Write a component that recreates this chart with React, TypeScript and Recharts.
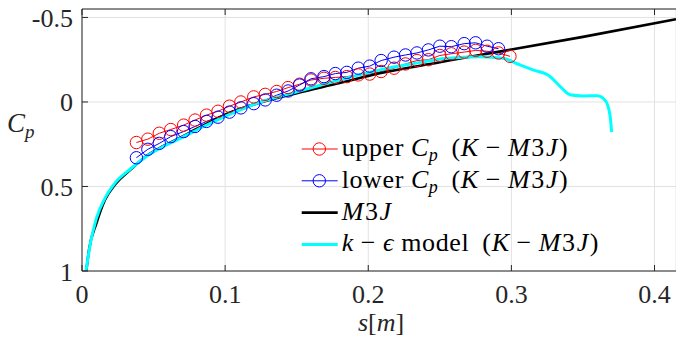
import React from 'react';
import { LineChart, Line, XAxis, YAxis, CartesianGrid, Legend } from 'recharts';

// ---- data ----
const sUpper = [0.038, 0.046, 0.054, 0.062, 0.071, 0.079, 0.087, 0.095, 0.103, 0.111, 0.12, 0.128, 0.136, 0.144, 0.152, 0.16, 0.169, 0.177, 0.185, 0.193, 0.201, 0.209, 0.218, 0.226, 0.234, 0.242, 0.25, 0.258, 0.267, 0.275, 0.283, 0.291, 0.299];
const cpUpper = [0.24, 0.22, 0.185, 0.163, 0.137, 0.107, 0.078, 0.055, 0.025, 0.0, -0.03, -0.045, -0.062, -0.085, -0.105, -0.13, -0.14, -0.145, -0.15, -0.16, -0.165, -0.18, -0.2, -0.225, -0.245, -0.25, -0.275, -0.285, -0.295, -0.305, -0.3, -0.29, -0.27];

const sLower = [0.038, 0.046, 0.054, 0.062, 0.071, 0.079, 0.087, 0.095, 0.103, 0.111, 0.12, 0.128, 0.136, 0.144, 0.152, 0.16, 0.169, 0.177, 0.185, 0.193, 0.201, 0.209, 0.218, 0.226, 0.234, 0.242, 0.25, 0.258, 0.267, 0.275, 0.283, 0.291];
const cpLower = [0.33, 0.28, 0.245, 0.205, 0.175, 0.145, 0.115, 0.09, 0.06, 0.035, 0.01, -0.012, -0.04, -0.065, -0.1, -0.137, -0.15, -0.168, -0.175, -0.2, -0.212, -0.245, -0.265, -0.278, -0.29, -0.308, -0.33, -0.327, -0.345, -0.35, -0.33, -0.315];

const sM3J = [0.003, 0.005, 0.01, 0.016, 0.023, 0.034, 0.045, 0.057, 0.069, 0.08, 0.1, 0.12, 0.15, 0.18, 0.208, 0.25, 0.278, 0.3, 0.35, 0.415];
const cpM3J = [1.0, 0.87, 0.72, 0.58, 0.49, 0.4, 0.32, 0.26, 0.21, 0.16, 0.075, 0.015, -0.052, -0.112, -0.17, -0.235, -0.278, -0.31, -0.385, -0.49];

const sKe = [0.0028, 0.006, 0.01, 0.016, 0.023, 0.034, 0.045, 0.057, 0.07, 0.085, 0.1, 0.12, 0.15, 0.18, 0.208, 0.23, 0.255, 0.278, 0.294, 0.306, 0.315, 0.327, 0.334, 0.341, 0.35, 0.36, 0.366, 0.369, 0.37];
const cpKe = [1.0, 0.83, 0.69, 0.57, 0.48, 0.395, 0.322, 0.263, 0.21, 0.145, 0.085, 0.015, -0.06, -0.13, -0.19, -0.225, -0.259, -0.268, -0.259, -0.219, -0.19, -0.151, -0.092, -0.043, -0.036, -0.037, -0.004, 0.085, 0.178];

const xTicks = [0, 0.1, 0.2, 0.3, 0.4];
const yTicks = [-0.5, 0, 0.5, 1];
const xTickLabels = ['0', '0.1', '0.2', '0.3', '0.4'];
const yTickLabels = ['-0.5', '0', '0.5', '1'];

const toRows = (s: number[], cp: number[]) => s.map((v, i) => ({ s: v, cp: cp[i] }));
const upperData = toRows(sUpper, cpUpper);
const lowerData = toRows(sLower, cpLower);
const m3jData = toRows(sM3J, cpM3J);
const keData = toRows(sKe, cpKe);

const FONT = '"Liberation Serif", "DejaVu Serif", "Noto Serif", serif';
const AX = '#262626';
const RED = '#ff0000';
const BLUE = '#0000ff';
const CYAN = '#00ffff';
const fontStyle = { fontFamily: FONT };

const BottomTick = (props: any) => {
  const { x, y, payload } = props;
  const i = xTicks.indexOf(payload.value);
  return (
    <g>
      <line x1={x} x2={x} y1={y} y2={y - 6} stroke={AX} strokeWidth={1} />
      <text x={x} y={y + 32} textAnchor="middle" style={fontStyle} fontSize={26} fill={AX}>
        {i >= 0 ? xTickLabels[i] : String(payload.value)}
      </text>
    </g>
  );
};

const TopTick = (props: any) => {
  const { x, y } = props;
  return <line x1={x} x2={x} y1={y} y2={y + 6} stroke={AX} strokeWidth={1} />;
};

const LeftTick = (props: any) => {
  const { x, y, payload } = props;
  const i = yTicks.indexOf(payload.value);
  return (
    <g>
      <line x1={x} x2={x + 6} y1={y} y2={y} stroke={AX} strokeWidth={1} />
      <text x={x - 9} y={y + 9.5} textAnchor="end" style={fontStyle} fontSize={26} fill={AX}>
        {i >= 0 ? yTickLabels[i] : String(payload.value)}
      </text>
    </g>
  );
};

const XLabel = (props: any) => {
  const vb = props.viewBox || { x: 82, y: 271, width: 594, height: 74 };
  return (
    <text x={vb.x + vb.width / 2 + 2} y={vb.y + 60} textAnchor="middle" style={fontStyle} fontSize={26} fill={AX}>
      <tspan fontStyle="italic">s</tspan>[<tspan fontStyle="italic">m</tspan>]
    </text>
  );
};

const YLabel = (props: any) => {
  const vb = props.viewBox || { x: 0, y: 9, width: 82, height: 262 };
  return (
    <text x={vb.x + 7} y={vb.y + vb.height / 2 - 8} style={fontStyle} fontSize={27} fill={AX}>
      <tspan fontStyle="italic">C</tspan>
      <tspan fontStyle="italic" fontSize={19} dy={6}>p</tspan>
    </text>
  );
};

const legendEntries = [
  { id: 'upper', color: RED, marker: true, width: 1 },
  { id: 'lower', color: BLUE, marker: true, width: 1 },
  { id: 'm3j', color: '#000000', marker: false, width: 2.6 },
  { id: 'ke', color: CYAN, marker: false, width: 3 },
];

const Minus = () => <tspan dx={7}>−</tspan>;

const KM3J = () => (
  <>
    <tspan dx={6}>(</tspan>
    <tspan fontStyle="italic">K</tspan>
    <Minus />
    <tspan fontStyle="italic" dx={7}>M</tspan>
    <tspan dx={1}>3</tspan>
    <tspan fontStyle="italic" dx={1}>J</tspan>
    <tspan dx={1}>)</tspan>
  </>
);

const legendText = (id: string) => {
  if (id === 'upper' || id === 'lower') {
    return (
      <>
        <tspan>{id === 'upper' ? 'upper' : 'lower'}</tspan>
        <tspan fontStyle="italic" dx={7}>C</tspan>
        <tspan fontStyle="italic" fontSize={18} dy={5}>p</tspan>
        <tspan dy={-5}> </tspan>
        <KM3J />
      </>
    );
  }
  if (id === 'm3j') {
    return (
      <>
        <tspan fontStyle="italic">M</tspan>
        <tspan dx={1}>3</tspan>
        <tspan fontStyle="italic" dx={1}>J</tspan>
      </>
    );
  }
  return (
    <>
      <tspan fontStyle="italic">k</tspan>
      <Minus />
      <tspan fontStyle="italic" dx={7}>ϵ</tspan>
      <tspan> model </tspan>
      <KM3J />
    </>
  );
};

const LegendContent = () => (
  <svg width={330} height={135} style={{ display: 'block', overflow: 'visible' }}>
    {legendEntries.map((e, i) => {
      const cy = 19 + 31.8 * i;
      return (
        <g key={e.id}>
          <line x1={6.7} x2={42.7} y1={cy} y2={cy} stroke={e.color} strokeWidth={e.width} />
          {e.marker && <circle cx={24.3} cy={cy} r={6.2} fill="none" stroke={e.color} strokeWidth={1} />}
          <text x={46.7} y={cy + 7} style={{ ...fontStyle, letterSpacing: 0.6 }} fontSize={26} fill="#000">
            {legendText(e.id)}
          </text>
        </g>
      );
    })}
  </svg>
);

export default function App() {
  return (
    <div style={{ position: 'absolute', left: 0, top: 0, width: 676, height: 345, background: '#fff' }}>
      <LineChart width={676} height={345} margin={{ top: 8, right: 0, bottom: 0, left: 0 }}>
        <CartesianGrid stroke="#e2e2e2" strokeWidth={1} />
        <XAxis
          dataKey="s"
          type="number"
          domain={[0, 0.415]}
          ticks={xTicks}
          allowDataOverflow
          height={74}
          tickSize={0}
          tickMargin={0}
          tickLine={false}
          tick={(p: any) => <BottomTick {...p} />}
          axisLine={{ stroke: AX, strokeWidth: 1 }}
          label={{ content: (p: any) => <XLabel {...p} /> }}
        />
        <XAxis
          xAxisId="top"
          orientation="top"
          dataKey="s"
          type="number"
          domain={[0, 0.415]}
          ticks={xTicks}
          allowDataOverflow
          height={1}
          tickSize={0}
          tickMargin={0}
          tickLine={false}
          tick={(p: any) => <TopTick {...p} />}
          axisLine={{ stroke: AX, strokeWidth: 1 }}
        />
        <YAxis
          dataKey="cp"
          type="number"
          domain={[-0.55, 1]}
          reversed
          ticks={yTicks}
          allowDataOverflow
          width={82}
          tickSize={0}
          tickMargin={0}
          tickLine={false}
          tick={(p: any) => <LeftTick {...p} />}
          axisLine={{ stroke: AX, strokeWidth: 1 }}
          label={{ content: (p: any) => <YLabel {...p} /> }}
        />
        <Line data={upperData} dataKey="cp" name="upper" type="linear" stroke={RED} strokeWidth={1}
          dot={{ r: 6.2, stroke: RED, strokeWidth: 1, fill: 'none' }} activeDot={false} isAnimationActive={false} />
        <Line data={lowerData} dataKey="cp" name="lower" type="linear" stroke={BLUE} strokeWidth={1}
          dot={{ r: 6.2, stroke: BLUE, strokeWidth: 1, fill: 'none' }} activeDot={false} isAnimationActive={false} />
        <Line data={m3jData} dataKey="cp" name="M3J" type="monotone" stroke="#000000" strokeWidth={2.6}
          dot={false} activeDot={false} isAnimationActive={false} />
        <Line data={keData} dataKey="cp" name="ke" type="monotone" stroke={CYAN} strokeWidth={3}
          dot={false} activeDot={false} isAnimationActive={false} />
        <Legend
          layout="vertical"
          align="center"
          verticalAlign="middle"
          wrapperStyle={{ position: 'absolute', left: 295, top: 130, width: 330, height: 135 }}
          content={() => <LegendContent />}
        />
      </LineChart>
    </div>
  );
}
